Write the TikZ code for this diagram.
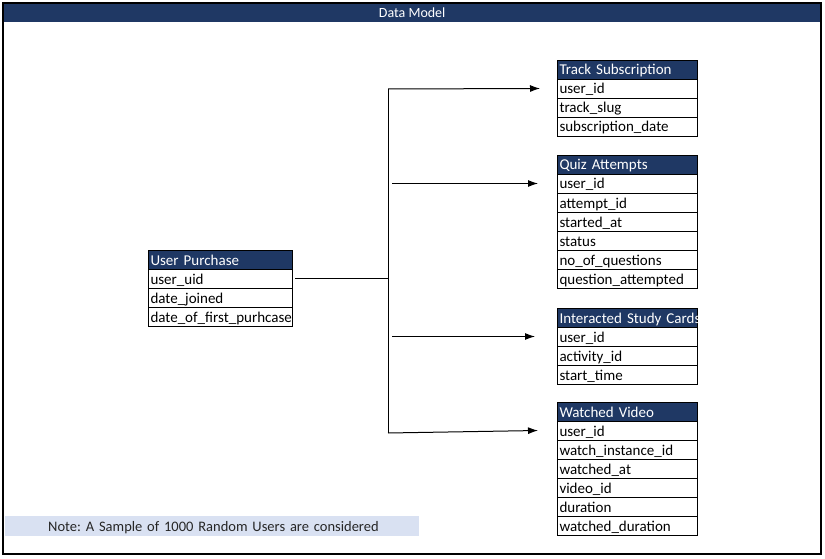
\documentclass[tikz,border=0pt]{standalone}
\usepackage{fontspec}
\setmainfont{Carlito}
\usetikzlibrary{positioning,arrows.meta}
\definecolor{hdblue}{RGB}{31,56,100}
\definecolor{noteblue}{RGB}{217,225,242}
\tikzset{
  cell/.style={rectangle, draw, line width=0.9pt, outer sep=0pt, inner xsep=2.5pt, inner ysep=0pt,
    minimum height=19pt, text height=12.5pt, text depth=1.5pt, align=left,
    font=\fontsize{15}{17}\selectfont},
  headcell/.style={cell, fill=hdblue, text=white},
  link/.style={line width=1pt},
  tip/.style={link, -{Latex[length=10pt,width=7pt]}}
}
% name, position, text width, title, fields
\newcommand{\datatable}[5]{%
  \node[headcell, text width=#3, anchor=north west] (#10) at #2 {\mbox{#4}};
  \foreach \f [count=\i, remember=\i as \j (initially 0)] in {#5}
    \node[cell, text width=#3, below=0pt of #1\j] (#1\i) {\mbox{\f}};
}
\begin{document}
\frenchspacing
\begin{tikzpicture}[x=1pt,y=-1pt]
\useasboundingbox (0,0) rectangle (825,559);
\node[rectangle, fill=hdblue, text=white, anchor=north west, inner sep=0pt, minimum width=818pt,
  minimum height=19pt, font=\fontsize{14}{16}\selectfont] (title) at (3,3) {Data Model};
\draw[line width=2pt] (3,3) rectangle (821,554);

\datatable{up}{(148,250)}{139pt}{User Purchase}{user\_uid,date\_joined,date\_of\_first\_purhcase}
\datatable{ts}{(557,60)}{135pt}{Track Subscription}{user\_id,track\_slug,subscription\_date}
\datatable{qa}{(557,155)}{135pt}{Quiz Attempts}{user\_id,attempt\_id,started\_at,status,no\_of\_questions,question\_attempted}
\datatable{sc}{(557,308)}{135pt}{Interacted Study Cards}{user\_id,activity\_id,start\_time}
\datatable{wv}{(557,402)}{135pt}{Watched Video}{user\_id,watch\_instance\_id,watched\_at,video\_id,duration,watched\_duration}

\coordinate (bt) at (388,89);
\coordinate (bb) at (388,433);
\draw[link] ([xshift=3pt]up1.east) -- (up1.east -| bt);
\draw[link] (bt) -- (bb);
\draw[tip] (bt) -- ([xshift=-17pt]ts1.west);
\draw[tip] ([xshift=4pt]bt |- qa1.west) -- ([xshift=-19pt]qa1.west);
\draw[tip] ([xshift=4pt]bt |- sc1.west) -- ([xshift=-22pt]sc1.west);
\draw[tip] (bb) -- ([xshift=-19pt]wv1.west);

\node[rectangle, fill=noteblue, text=black!85, anchor=north west, inner xsep=0pt, inner ysep=0pt,
  text width=414pt, minimum height=20pt, text height=12.5pt, text depth=1.5pt, align=left,
  font=\fontsize{14.5}{17}\selectfont] (note) at (5,516) {\hspace*{43pt}Note: A Sample of 1000 Random Users are considered};
\end{tikzpicture}
\end{document}
